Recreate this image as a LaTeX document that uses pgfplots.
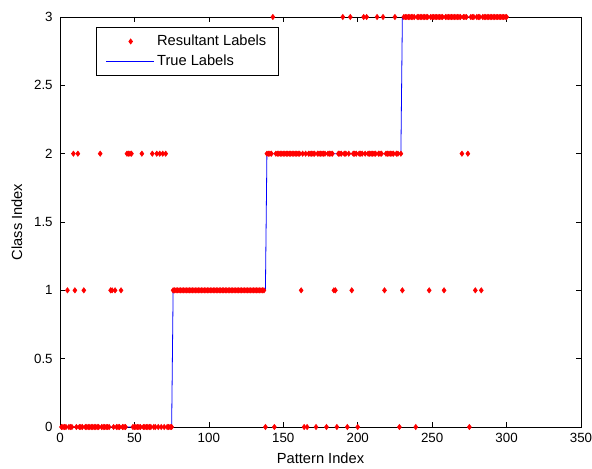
\documentclass[border=0pt]{standalone}
\usepackage{pgfplots}
\pgfplotsset{compat=1.18}
\usepackage{fontspec}
\setmainfont{Liberation Sans}
\begin{document}
\begin{tikzpicture}
\useasboundingbox (-45pt,-30.75pt) rectangle (399pt,320.25pt);
\begin{axis}[
  scale only axis, width=390.75pt, height=307.5pt,
  anchor=south west, at={(0,0)},
  xmin=0, xmax=350, ymin=0, ymax=3,
  xtick={0,50,...,350}, ytick={0,0.5,...,3},
  yticklabels={0,0.5,1,1.5,2,2.5,3},
  tick align=inside, major tick length=3.5pt,
  tick style={black, line width=0.5pt},
  axis line style={black, line width=0.6pt},
  /pgf/number format/assume math mode=true,
  ticklabel style={font=\fontsize{10}{11}\selectfont},
  yticklabel style={xshift=-2pt},
  xticklabel style={yshift=-1pt},
  xlabel={Pattern Index}, ylabel={Class Index},
  label style={font=\fontsize{11}{12}\selectfont},
  xlabel style={yshift=-1pt},
  ylabel style={yshift=2pt},
  legend style={at={(0.069,0.976)}, anchor=north west, draw=black, line width=0.5pt,
    font=\fontsize{11}{12}\selectfont, inner xsep=7pt, inner ysep=4pt, row sep=1.5pt},
  legend cell align=left,
  legend image code/.code={\draw[#1] (0pt,0pt) -- (36pt,0pt);},
  clip=false,
]
\addplot[only marks, mark=diamond*, mark size=2pt, color=red, mark options={fill=red, draw=red},
  legend image code/.code={\path[draw=none,fill=none] (0pt,0pt) -- (36pt,0pt); \fill[red] (18.5pt,1.9pt)--(19.9pt,0pt)--(18.5pt,-1.9pt)--(17.1pt,0pt)--cycle;}]
coordinates {
(1,0)(2,0)(3,0)(4,0)(5,1)(6,0)(7,0)(8,0)(9,2)(10,1)(11,0)(12,2)(13,0)(14,0)(15,0)(16,1)(17,0)(18,0)(19,0)(20,0)
(21,0)(22,0)(23,0)(24,0)(25,0)(26,0)(27,2)(28,0)(29,0)(30,0)(31,0)(32,0)(33,0)(34,1)(35,1)(36,0)(37,1)(38,0)(39,0)(40,0)
(41,1)(42,0)(43,0)(44,0)(45,2)(46,2)(47,2)(48,2)(49,0)(50,0)(51,0)(52,0)(53,0)(54,0)(55,2)(56,0)(57,0)(58,0)(59,0)(60,0)
(61,0)(62,2)(63,0)(64,0)(65,2)(66,0)(67,2)(68,0)(69,2)(70,0)(71,2)(72,0)(73,0)(74,0)(75,0)
(76,1)(77,1)(78,1)(79,1)(80,1)(81,1)(82,1)(83,1)(84,1)(85,1)(86,1)(87,1)(88,1)(89,1)(90,1)(91,1)(92,1)(93,1)(94,1)(95,1)
(96,1)(97,1)(98,1)(99,1)(100,1)(101,1)(102,1)(103,1)(104,1)(105,1)(106,1)(107,1)(108,1)(109,1)(110,1)(111,1)(112,1)(113,1)(114,1)(115,1)
(116,1)(117,1)(118,1)(119,1)(120,1)(121,1)(122,1)(123,1)(124,1)(125,1)(126,1)(127,1)(128,1)(129,1)(130,1)(131,1)(132,1)(133,1)(134,1)(135,1)
(136,1)(137,1)(138,0)
(139,2)(140,2)(141,2)(142,2)(143,3)(144,0)(145,2)(146,2)(147,2)(148,2)(149,2)(150,2)(151,2)(152,2)(153,2)(154,2)(155,2)(156,2)(157,2)(158,2)
(159,2)(160,2)(161,2)(162,1)(163,2)(164,0)(165,2)(166,0)(167,2)(168,2)(169,2)(170,2)(171,2)(172,0)(173,2)(174,2)(175,2)(176,2)(177,2)(178,2)
(179,0)(180,2)(181,2)(182,2)(183,2)(184,1)(185,1)(186,0)(187,2)(188,2)(189,2)(190,3)(191,2)(192,2)(193,0)(194,2)(195,3)(196,1)(197,2)(198,2)
(199,2)(200,0)(201,2)(202,2)(203,2)(204,3)(205,2)(206,3)(207,2)(208,2)(209,2)(210,2)(211,2)(212,2)(213,3)(214,2)(215,2)(216,2)(217,3)(218,1)
(219,2)(220,2)(221,2)(222,2)(223,2)(224,2)(225,3)(226,2)(227,2)(228,0)(229,2)
(230,1)(231,3)(232,3)(233,3)(234,3)(235,3)(236,3)(237,3)(238,3)(239,0)(240,3)(241,3)(242,3)(243,3)(244,3)(245,3)(246,3)(247,3)(248,1)(249,3)
(250,3)(251,3)(252,3)(253,3)(254,3)(255,3)(256,3)(257,3)(258,1)(259,3)(260,3)(261,3)(262,3)(263,3)(264,3)(265,3)(266,3)(267,3)(268,3)(269,3)
(270,2)(271,3)(272,3)(273,3)(274,2)(275,0)(276,3)(277,3)(278,3)(279,1)(280,3)(281,3)(282,3)(283,1)(284,3)(285,3)(286,3)(287,3)(288,3)(289,3)
(290,3)(291,3)(292,3)(293,3)(294,3)(295,3)(296,3)(297,3)(298,3)(299,3)(300,3)
};
\addlegendentry{Resultant Labels}
\addplot[color=blue, line width=0.6pt, no marks]
coordinates {(1,0)(75,0)(76,1)(138,1)(139,2)(229,2)(230,3)(300,3)};
\addlegendentry{True Labels}
\end{axis}
\end{tikzpicture}
\end{document}
